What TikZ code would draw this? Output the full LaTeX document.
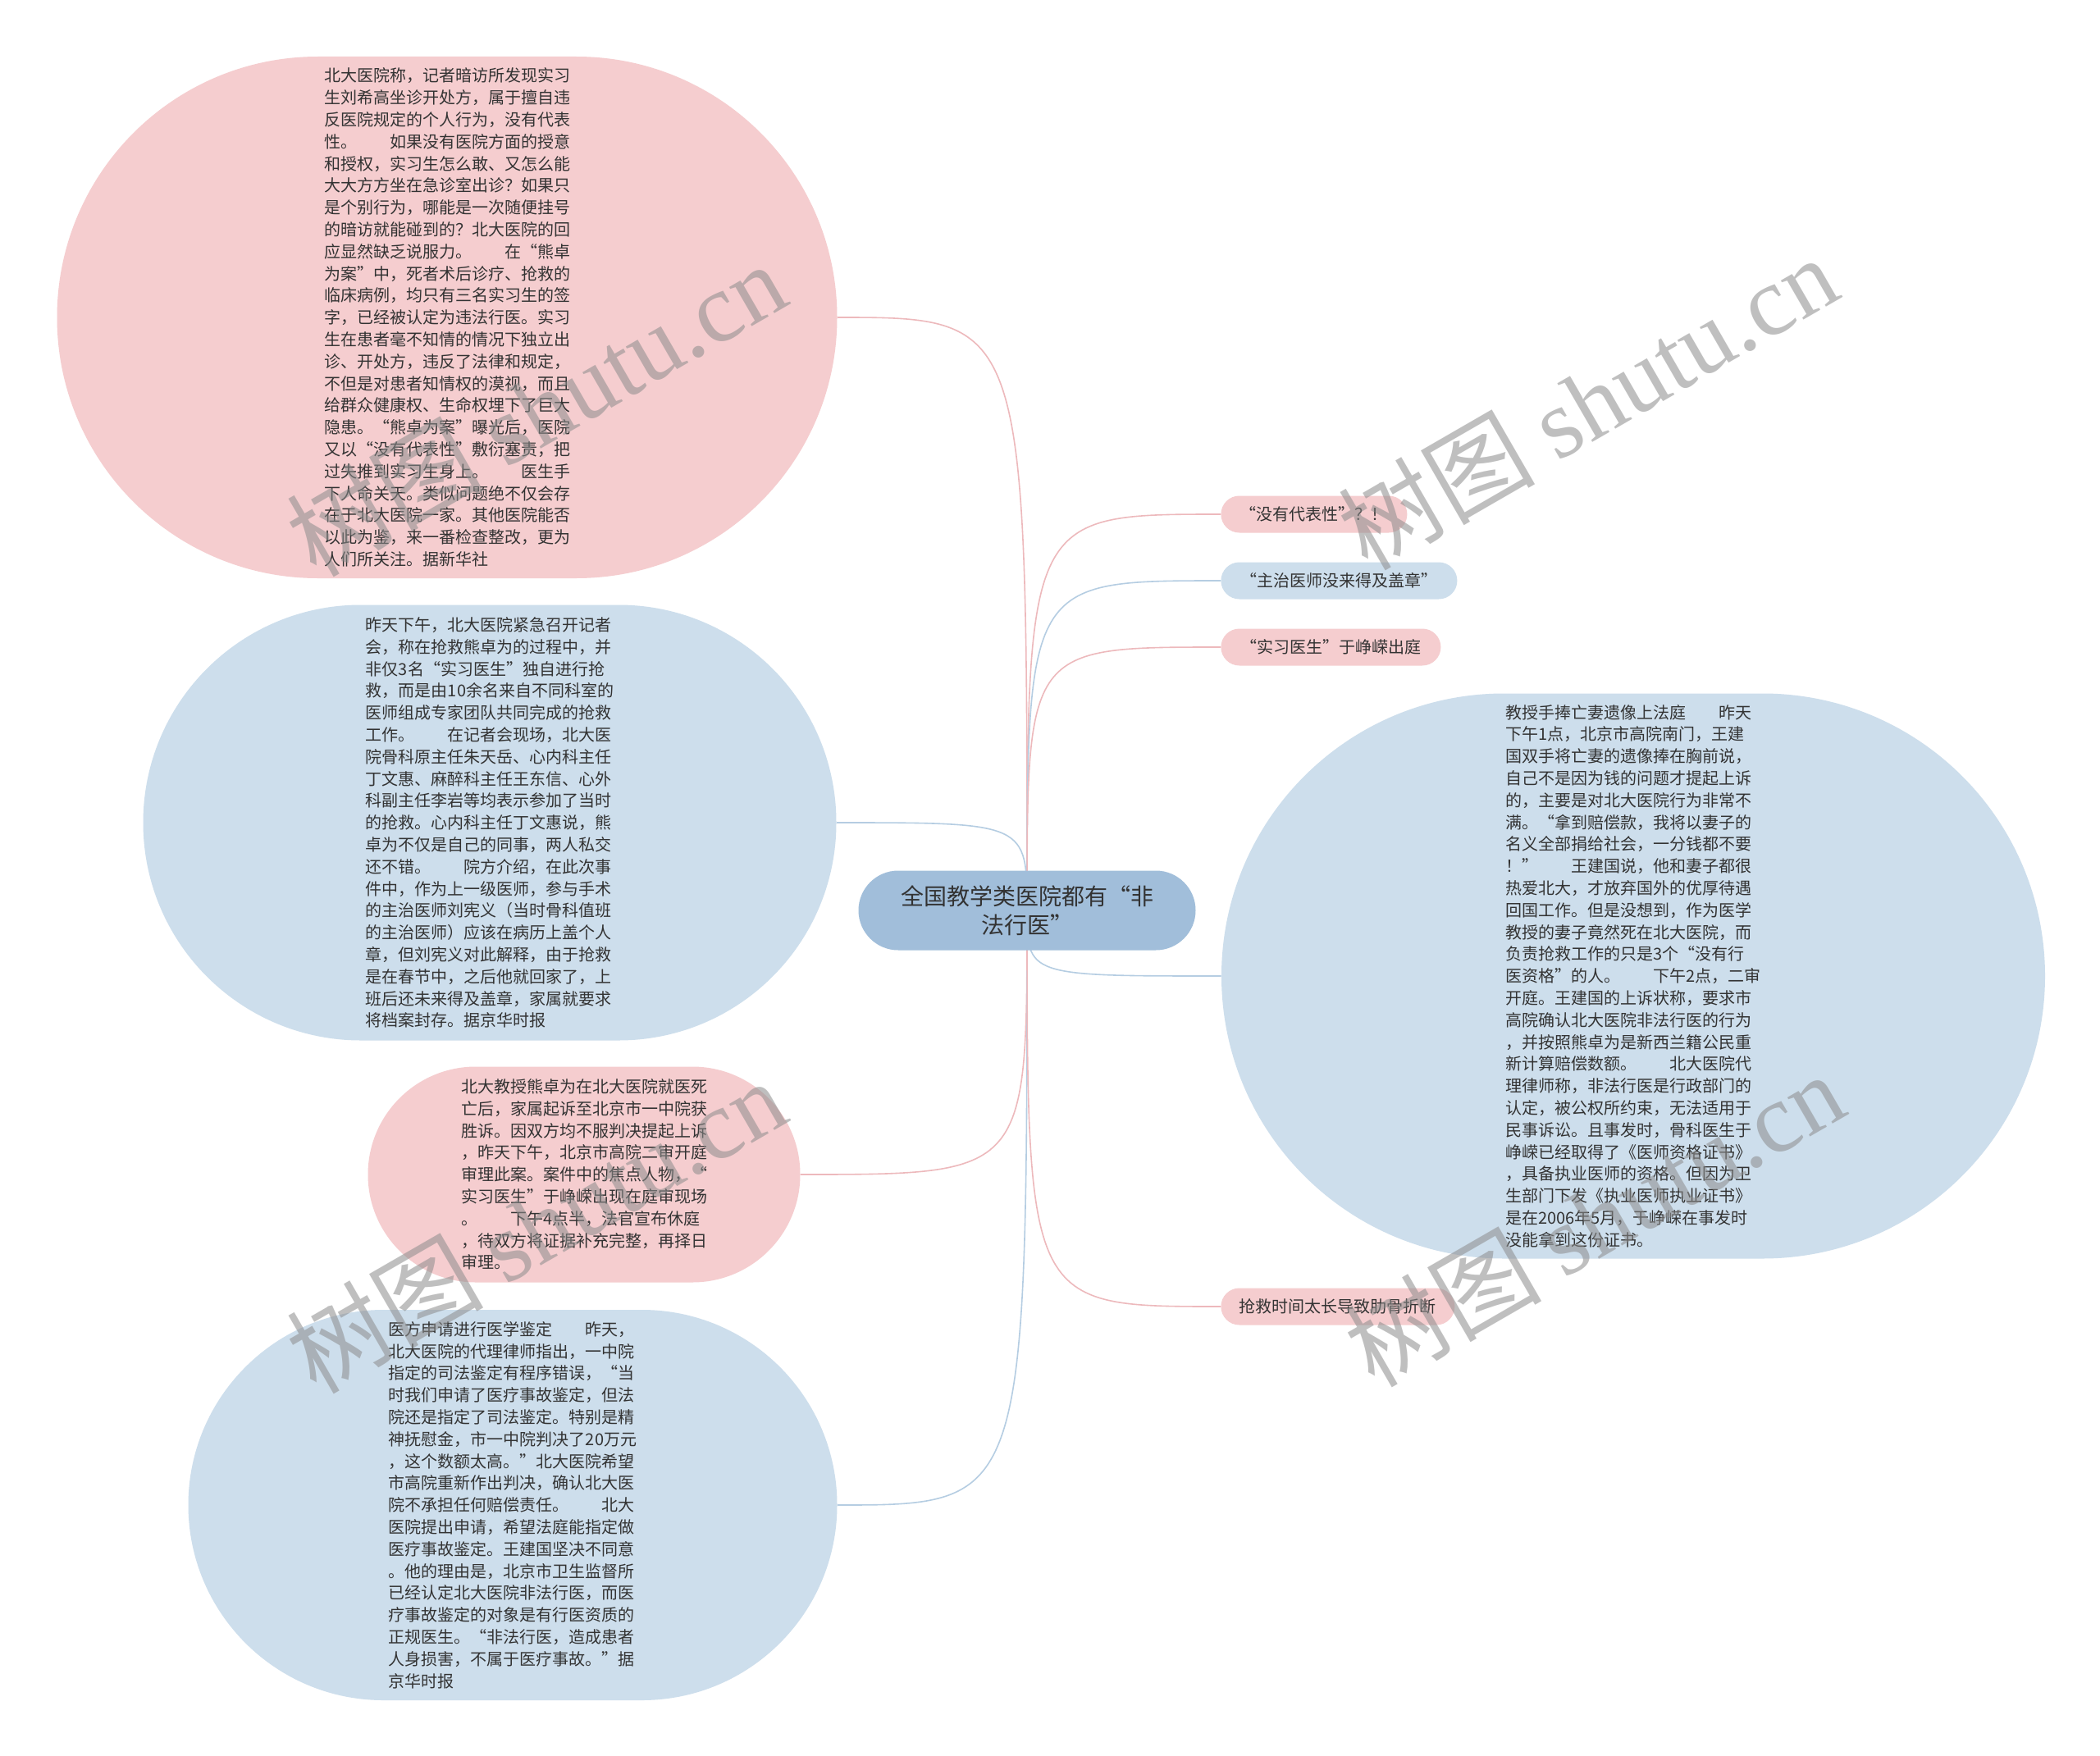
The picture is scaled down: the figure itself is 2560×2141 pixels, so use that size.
\documentclass[tikz,border=0pt]{standalone}
\usepackage{fontspec}
\setmainfont{Noto Sans CJK SC}
\newfontfamily\wmserif{Liberation Serif}
\usepackage{xcolor}
\definecolor{pinkfill}{HTML}{F5CDCF}
\definecolor{bluefill}{HTML}{CDDEEC}
\definecolor{rootfill}{HTML}{A1BEDA}
\definecolor{pinkline}{HTML}{EDB9BC}
\definecolor{blueline}{HTML}{B5CDE2}
\definecolor{ink}{HTML}{333333}
\usepackage{tikz}
\usetikzlibrary{shapes.misc,backgrounds}
\newcommand{\gap}{\hspace{2em}}

\begin{document}
\begin{tikzpicture}[x=.5pt,y=-.5pt,
    topic/.style={rounded rectangle,fill=#1,text=ink,align=left,inner sep=0pt,
      font=\fontsize{10}{13.4}\selectfont},
    tag/.style={rounded rectangle,fill=#1,text=ink,anchor=west,inner sep=0pt,
      minimum height=22.5pt,font=\fontsize{10}{12}\selectfont},
    link/.style={draw=#1,line width=.8pt},
    wmark/.style={rotate=30,text=black!45,text opacity=.55,
      font=\fontsize{60}{60}\selectfont}]
    \useasboundingbox (0,0) rectangle (2560,2141);
    \node[rounded rectangle,fill=rootfill,text=ink,align=center,inner sep=0pt,
      minimum width=205.5pt,minimum height=48.5pt,
      font=\fontsize{14}{17.5}\selectfont] (root) at (1252,1110)
      {全国教学类医院都有“非\\法行医”};
    \node[topic=pinkfill,minimum width=475.5pt,minimum height=318pt] (sheping) at (545,387)
      {北大医院称，记者暗访所发现实习\\生刘希高坐诊开处方，属于擅自违\\反医院规定的个人行为，没有代表\\性。\gap 如果没有医院方面的授意\\和授权，实习生怎么敢、又怎么能\\大大方方坐在急诊室出诊？如果只\\是个别行为，哪能是一次随便挂号\\的暗访就能碰到的？北大医院的回\\应显然缺乏说服力。\gap 在“熊卓\\为案”中，死者术后诊疗、抢救的\\临床病例，均只有三名实习生的签\\字，已经被认定为违法行医。实习\\生在患者毫不知情的情况下独立出\\诊、开处方，违反了法律和规定，\\不但是对患者知情权的漠视，而且\\给群众健康权、生命权埋下了巨大\\隐患。“熊卓为案”曝光后，医院\\又以“没有代表性”敷衍塞责，把\\过失推到实习生身上。\gap 医生手\\下人命关天。类似问题绝不仅会存\\在于北大医院一家。其他医院能否\\以此为鉴，来一番检查整改，更为\\人们所关注。据新华社};
    \node[topic=bluefill,minimum width=422.5pt,minimum height=265.5pt] (jizhehui) at (597,1003)
      {昨天下午，北大医院紧急召开记者\\会，称在抢救熊卓为的过程中，并\\非仅3名“实习医生”独自进行抢\\救，而是由10余名来自不同科室的\\医师组成专家团队共同完成的抢救\\工作。\gap 在记者会现场，北大医\\院骨科原主任朱天岳、心内科主任\\丁文惠、麻醉科主任王东信、心外\\科副主任李岩等均表示参加了当时\\的抢救。心内科主任丁文惠说，熊\\卓为不仅是自己的同事，两人私交\\还不错。\gap 院方介绍，在此次事\\件中，作为上一级医师，参与手术\\的主治医师刘宪义（当时骨科值班\\的主治医师）应该在病历上盖个人\\章，但刘宪义对此解释，由于抢救\\是在春节中，之后他就回家了，上\\班后还未来得及盖章，家属就要求\\将档案封存。据京华时报};
    \node[topic=pinkfill,minimum width=263.5pt,minimum height=131.5pt] (ershen) at (712,1432)
      {北大教授熊卓为在北大医院就医死\\亡后，家属起诉至北京市一中院获\\胜诉。因双方均不服判决提起上诉\\，昨天下午，北京市高院二审开庭\\审理此案。案件中的焦点人物，“\\实习医生”于峥嵘出现在庭审现场\\。\gap 下午4点半，法官宣布休庭\\，待双方将证据补充完整，再择日\\审理。};
    \node[topic=bluefill,minimum width=395.5pt,minimum height=238pt] (jianding) at (625,1835)
      {医方申请进行医学鉴定\gap 昨天，\\北大医院的代理律师指出，一中院\\指定的司法鉴定有程序错误，“当\\时我们申请了医疗事故鉴定，但法\\院还是指定了司法鉴定。特别是精\\神抚慰金，市一中院判决了20万元\\，这个数额太高。”北大医院希望\\市高院重新作出判决，确认北大医\\院不承担任何赔偿责任。\gap 北大\\医院提出申请，希望法庭能指定做\\医疗事故鉴定。王建国坚决不同意\\。他的理由是，北京市卫生监督所\\已经认定北大医院非法行医，而医\\疗事故鉴定的对象是有行医资质的\\正规医生。“非法行医，造成患者\\人身损害，不属于医疗事故。”据\\京华时报};
    \node[topic=bluefill,minimum width=502pt,minimum height=344.5pt] (fating) at (1991,1190)
      {教授手捧亡妻遗像上法庭\gap 昨天\\下午1点，北京市高院南门，王建\\国双手将亡妻的遗像捧在胸前说，\\自己不是因为钱的问题才提起上诉\\的，主要是对北大医院行为非常不\\满。“拿到赔偿款，我将以妻子的\\名义全部捐给社会，一分钱都不要\\！”\gap 王建国说，他和妻子都很\\热爱北大，才放弃国外的优厚待遇\\回国工作。但是没想到，作为医学\\教授的妻子竟然死在北大医院，而\\负责抢救工作的只是3个“没有行\\医资格”的人。\gap 下午2点，二审\\开庭。王建国的上诉状称，要求市\\高院确认北大医院非法行医的行为\\，并按照熊卓为是新西兰籍公民重\\新计算赔偿数额。\gap 北大医院代\\理律师称，非法行医是行政部门的\\认定，被公权所约束，无法适用于\\民事诉讼。且事发时，骨科医生于\\峥嵘已经取得了《医师资格证书》\\，具备执业医师的资格。但因为卫\\生部门下发《执业医师执业证书》\\是在2006年5月，于峥嵘在事发时\\没能拿到这份证书。};
    \node[tag=pinkfill,minimum width=113.5pt] (daibiao) at (1488,627) {“没有代表性”？！};
    \node[tag=bluefill,minimum width=144pt] (gaizhang) at (1488,708) {“主治医师没来得及盖章”};
    \node[tag=pinkfill,minimum width=134pt] (chuting) at (1488,789) {“实习医生”于峥嵘出庭};
    \node[tag=pinkfill,minimum width=142.5pt] (leigu) at (1488,1593) {抢救时间太长导致肋骨折断};
    \begin{scope}[on background layer]
      \fill[white] (0,0) rectangle (2560,2141);
      \draw[link=pinkline] (root.center) .. controls (root.center |- sheping.east) .. (sheping.east);
      \draw[link=blueline] (root.center) .. controls (root.center |- jizhehui.east) .. (jizhehui.east);
      \draw[link=pinkline] (root.center) .. controls (root.center |- ershen.east) .. (ershen.east);
      \draw[link=blueline] (root.center) .. controls (root.center |- jianding.east) .. (jianding.east);
      \draw[link=pinkline] (root.center) .. controls (root.center |- daibiao.west) .. (daibiao.west);
      \draw[link=blueline] (root.center) .. controls (root.center |- gaizhang.west) .. (gaizhang.west);
      \draw[link=pinkline] (root.center) .. controls (root.center |- chuting.west) .. (chuting.west);
      \draw[link=blueline] (root.center) .. controls (root.center |- fating.west) .. (fating.west);
      \draw[link=pinkline] (root.center) .. controls (root.center |- leigu.west) .. (leigu.west);
    \end{scope}
    \node[wmark] (wm1) at (653,498) {树图 {\wmserif shutu.cn}};
    \node[wmark] (wm2) at (1935,490) {树图 {\wmserif shutu.cn}};
    \node[wmark] (wm3) at (653,1494) {树图 {\wmserif shutu.cn}};
    \node[wmark] (wm4) at (1943,1486) {树图 {\wmserif shutu.cn}};
  \end{tikzpicture}
\end{document}
